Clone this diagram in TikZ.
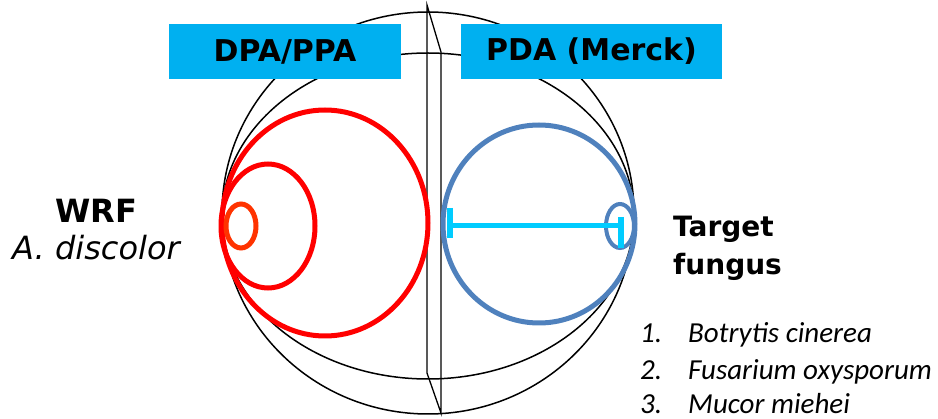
\documentclass[tikz,border=0pt]{standalone}
\usepackage{fontspec}
\setmainfont{DejaVu Sans}
\newfontfamily\listfont{Carlito}
\definecolor{boxblue}{HTML}{00B0F0}
\definecolor{ringred}{HTML}{FF0000}
\definecolor{ringorange}{HTML}{FF3300}
\definecolor{ringblue}{HTML}{4F81BD}
\definecolor{measurecyan}{HTML}{00CCFF}
\tikzset{
  dishline/.style={line width=1.5pt, black},
  redring/.style={line width=5pt, ringred},
  bluering/.style={line width=5pt, ringblue},
  mediumbox/.style={fill=boxblue, inner sep=0pt, font=\fontsize{30}{36}\selectfont\bfseries},
  listtext/.style={anchor=base west, inner sep=0pt, font=\listfont\fontsize{29}{34}\selectfont\itshape},
}
\begin{document}
\begin{tikzpicture}[x=1pt,y=-1pt]
\useasboundingbox (0,0) rectangle (938,419);
% dish rim and bottom
\draw[dishline] (428,213) ellipse [x radius=206, y radius=201];
\draw[dishline] (428,216) ellipse [x radius=206, y radius=163];
% partition wall
\draw[line width=1.3pt] (427,5) -- (427,373) -- (441,413) -- (441,52) -- cycle;
% WRF side
\draw[redring] (325,223) ellipse [x radius=103, y radius=113];
\draw[redring] (268,226) ellipse [x radius=47, y radius=62];
\draw[line width=5pt, ringorange] (241,226) ellipse [x radius=15, y radius=22];
% target side
\draw[bluering] (539,224) ellipse [x radius=96, y radius=99];
\draw[line width=4pt, ringblue] (620,226) ellipse [x radius=14, y radius=22];
\coordinate (mstart) at (450,226);
\coordinate (mend) at (621,226);
\draw[line width=5pt, measurecyan] (mstart) -- (mend);
\draw[line width=6pt, measurecyan] (mstart) ++(0,-18) -- ++(0,30);
\draw[line width=6pt, measurecyan] (mend) ++(0,-9) -- ++(0,31);
% media labels
\node[mediumbox, minimum width=232pt, minimum height=55pt] (dpa) at (285,51.5) {DPA/PPA};
\node[mediumbox, minimum width=261pt, minimum height=55pt] (pda) at (591.5,51.5) {PDA (Merck)};
% fungi
\node[anchor=base, font=\fontsize{32}{38}\selectfont\bfseries] (wrf) at (96,223) {WRF};
\node[anchor=base, font=\fontsize{32}{38}\selectfont\itshape] (wrfname) at (96,260) {A. discolor};
\node[anchor=base west, inner sep=0pt, font=\fontsize{28}{34}\selectfont\bfseries] (target) at (673,237) {Target};
\node[anchor=base west, inner sep=0pt, font=\fontsize{28}{34}\selectfont\bfseries] (fungus) at (673,275) {fungus};
\foreach \n/\species/\y in {1/Botrytis cinerea/343, 2/Fusarium oxysporum/380, 3/Mucor miehei/414}{
  \node[listtext] (num\n) at (640,\y) {\n.};
  \node[listtext] (species\n) at (688,\y) {\species};
}
\end{tikzpicture}
\end{document}
